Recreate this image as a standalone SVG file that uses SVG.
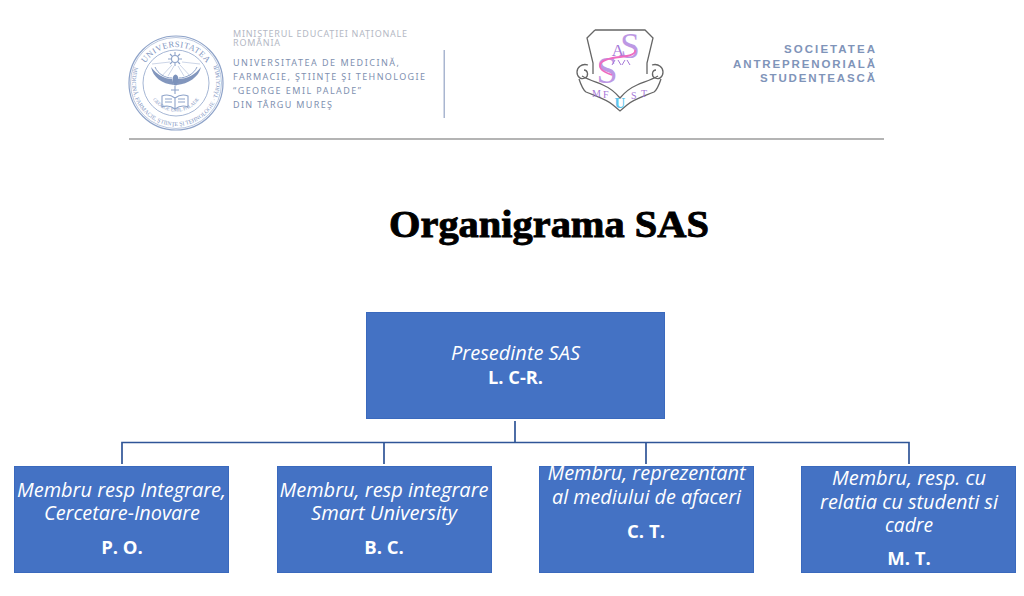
<svg xmlns="http://www.w3.org/2000/svg" width="1024" height="596" viewBox="0 0 1024 596">
<style>
.n{fill:#4472c4;stroke:#3a69bd;stroke-width:1}
.r{font-family:"Open Sans","Noto Sans",sans-serif;font-style:italic;font-size:20px;fill:#fff;text-anchor:middle}
.b{font-family:"Open Sans","Noto Sans",sans-serif;font-weight:700;font-size:18.500px;fill:#fff;text-anchor:middle}
.c{fill:none;stroke:#2f5597;stroke-width:1.700}
.m1{font-family:"Noto Sans","Open Sans",sans-serif;font-size:9px;fill:#b4b8c4}
.m2{font-family:"Noto Sans","Open Sans",sans-serif;font-size:9px;fill:#8090b0}
.sa{font-family:"Liberation Sans",Arial,sans-serif;font-weight:700;font-size:11.500px;fill:#7f94b9;text-anchor:end}
.sl{fill:none;stroke:#8ea3c9}
.st{font-family:"Liberation Serif",serif;fill:#7f96bf}
.lg{font-family:"Liberation Serif",serif}
.sh{fill:none;stroke:#666;stroke-width:1.300}
</style>
<defs>
<path id="top" d="M139 84a37 37 0 0 1 74 0"/>
<path id="bot" d="M135 66a44 44 0 1 0 82 0"/>
<path id="in" d="M150 94a28 28 0 0 0 52 0"/>
</defs>

<g id="logo-umfst">
<circle class="sl" cx="176" cy="83" r="47" stroke-width="1.200"/>
<circle class="sl" cx="176" cy="83" r="45.500" stroke-width=".6"/>
<circle class="sl" cx="176" cy="83" r="33" stroke-width=".8"/>
<text class="st" font-size="8.500" letter-spacing=".5"><textPath href="#top" startOffset="50%" text-anchor="middle">UNIVERSITATEA</textPath></text>
<text class="st" font-size="5.800"><textPath href="#bot" startOffset="50%" text-anchor="middle">DE MEDICINĂ, FARMACIE, ŞTIINŢE ŞI TEHNOLOGIE · TÂRGU MUREŞ</textPath></text>
<text class="st" font-size="5"><textPath href="#in" startOffset="50%" text-anchor="middle">GEORGE EMIL PALADE</textPath></text>
<g stroke="#a9b9d6" fill="none" stroke-width=".6">
<path d="M172 65L160 78M174 66L168 76M178 66L184 76M180 65L192 78M170 62L152 64M182 62L200 64"/>
</g>
<g stroke="#8ea3c9" fill="none" stroke-width="1.100">
<circle cx="175" cy="59" r="3.500"/>
<path d="M175 52v3M175 63v3M168 59h3M179 59h3M170 54l2 2M180 54l-2 2M170 64l2-2M180 64l-2-2"/>
<path d="M175 86v8M171 90h8"/>
<path d="M162 96c5-2 9-1 13 2c4-3 8-4 13-2v11c-5-2-9-1-13 2c-4-3-8-4-13-2zM175 98v11M165 99h7M165 102h7M178 99h7M178 102h7"/>
</g>
<path d="M151 67C153 77 162 84 174 85L172 79C165 79 157 75 151 67ZM201 67C199 77 188 84 177 85L178 79C187 79 195 75 201 67Z" fill="#8296bd"/>
<path d="M155 67C158 74 165 78 172 78M197 67C194 74 186 78 179 78" fill="none" stroke="#8ea3c9"/>
<ellipse cx="175.500" cy="80" rx="3" ry="5.500" fill="#7c92bb"/>
</g>

<g id="header-text">
<text class="m1" x="233" y="36.500" textLength="174" lengthAdjust="spacing">MINISTERUL EDUCAŢIEI NAŢIONALE</text>
<text class="m1" x="233" y="46" textLength="47" lengthAdjust="spacing">ROMÂNIA</text>
<text class="m2" x="233" y="66" textLength="166" lengthAdjust="spacing">UNIVERSITATEA DE MEDICINĂ,</text>
<text class="m2" x="233" y="80" textLength="192" lengthAdjust="spacing">FARMACIE, ŞTIINŢE ŞI TEHNOLOGIE</text>
<text class="m2" x="233" y="94" textLength="128" lengthAdjust="spacing">“GEORGE EMIL PALADE”</text>
<text class="m2" x="233" y="108" textLength="99" lengthAdjust="spacing">DIN TÂRGU MUREŞ</text>
<rect x="443.500" y="50" width="1.500" height="68" fill="#a9b6d0"/>
<rect x="129" y="138" width="755" height="2" fill="#b4b4b4"/>
</g>

<g id="logo-sas">
<path class="sh" d="M595 30H645L653 38L647 63V74M595 30L587 38L593 63V74"/>
<path class="sh" d="M582 76C589 80 596 82 603 85C610 88 615 92 620 98C625 92 630 88 637 85C644 82 651 80 658 76"/>
<path class="sh" d="M579 79C581 85 583 90 586 92C595 96 606 99 613 105L620 111L627 105C634 99 645 96 654 92C657 90 659 85 661 79"/>
<path class="sh" d="M588 65C581 63 577 68 577 72C577 77 581 80 585 78C589 76 588 70 584 70M652 65C659 63 663 68 663 72C663 77 659 80 655 78C651 76 652 70 656 70"/>
<text class="lg" x="630" y="58" font-size="35" fill="#bd98e4" text-anchor="middle">S</text>
<text class="lg" x="618" y="56" font-size="17" fill="#a678d8" text-anchor="middle">A</text>
<text class="lg" x="607" y="83" font-size="38" fill="#bd98e4" text-anchor="middle">S</text>
<path d="M635 50C636 54 630 56 620 57C610 58 601 60 600 65C599 70 606 73 612 75" fill="none" stroke="#ee6cc0" stroke-width="1.800"/>
<path d="M612 65L615 60M618 60L621 65M622 65L625 60M627 60L630 65" fill="none" stroke="#a678d8" stroke-width="1"/>
<text class="lg" x="592" y="97" font-size="10" fill="#a678d8">M</text>
<text class="lg" x="603" y="98" font-size="10" fill="#a678d8">F</text>
<text class="lg" x="631" y="99" font-size="10" fill="#a678d8">S</text>
<text class="lg" x="641" y="97" font-size="10" fill="#a678d8">T</text>
<text class="lg" x="620" y="108" font-size="15" font-weight="700" fill="#5cc5ee" text-anchor="middle">U</text>
</g>

<g id="header-sas">
<text class="sa" x="875" y="53" textLength="91" lengthAdjust="spacing">SOCIETATEA</text>
<text class="sa" x="875" y="67.500" textLength="142" lengthAdjust="spacing">ANTREPRENORIALĂ</text>
<text class="sa" x="875" y="81.500" textLength="115" lengthAdjust="spacing">STUDENȚEASCĂ</text>
</g>

<text id="title" x="549" y="237" font-family="'Liberation Serif',serif" font-weight="700" font-size="38" text-anchor="middle" textLength="320" lengthAdjust="spacingAndGlyphs" stroke="#000" stroke-width=".9">Organigrama SAS</text>

<g id="connectors">
<path class="c" d="M515 421V442.500M122 464V442.500H909V464M384 442.500V464M646 442.500V464"/>
</g>

<g id="node-presedinte">
<rect class="n" x="366.500" y="312.500" width="298" height="106"/>
<text class="r" x="515.500" y="360" textLength="129" lengthAdjust="spacingAndGlyphs">Presedinte SAS</text>
<text class="b" x="515.500" y="384" textLength="55" lengthAdjust="spacingAndGlyphs">L. C-R.</text>
</g>
<g id="node-po">
<rect class="n" x="14.500" y="466.500" width="214" height="106"/>
<text class="r" x="121.500" y="497" textLength="209" lengthAdjust="spacingAndGlyphs">Membru resp Integrare,</text>
<text class="r" x="122" y="520" textLength="156" lengthAdjust="spacingAndGlyphs">Cercetare-Inovare</text>
<text class="b" x="122" y="554">P. O.</text>
</g>
<g id="node-bc">
<rect class="n" x="277.500" y="466.500" width="214" height="106"/>
<text class="r" x="384" y="497" textLength="209" lengthAdjust="spacingAndGlyphs">Membru, resp integrare</text>
<text class="r" x="384" y="520" textLength="146" lengthAdjust="spacingAndGlyphs">Smart University</text>
<text class="b" x="384" y="554">B. C.</text>
</g>
<g id="node-ct">
<rect class="n" x="539.500" y="466.500" width="214" height="106"/>
<text class="r" x="646.500" y="480" textLength="198" lengthAdjust="spacingAndGlyphs">Membru, reprezentant</text>
<text class="r" x="646.500" y="504" textLength="189" lengthAdjust="spacingAndGlyphs">al mediului de afaceri</text>
<text class="b" x="646" y="538">C. T.</text>
</g>
<g id="node-mt">
<rect class="n" x="801.500" y="466.500" width="214" height="106"/>
<text class="r" x="909" y="485" textLength="154" lengthAdjust="spacingAndGlyphs">Membru, resp. cu</text>
<text class="r" x="909" y="509" textLength="178" lengthAdjust="spacingAndGlyphs">relatia cu studenti si</text>
<text class="r" x="909" y="532" textLength="48" lengthAdjust="spacingAndGlyphs">cadre</text>
<text class="b" x="909" y="565">M. T.</text>
</g>
</svg>
